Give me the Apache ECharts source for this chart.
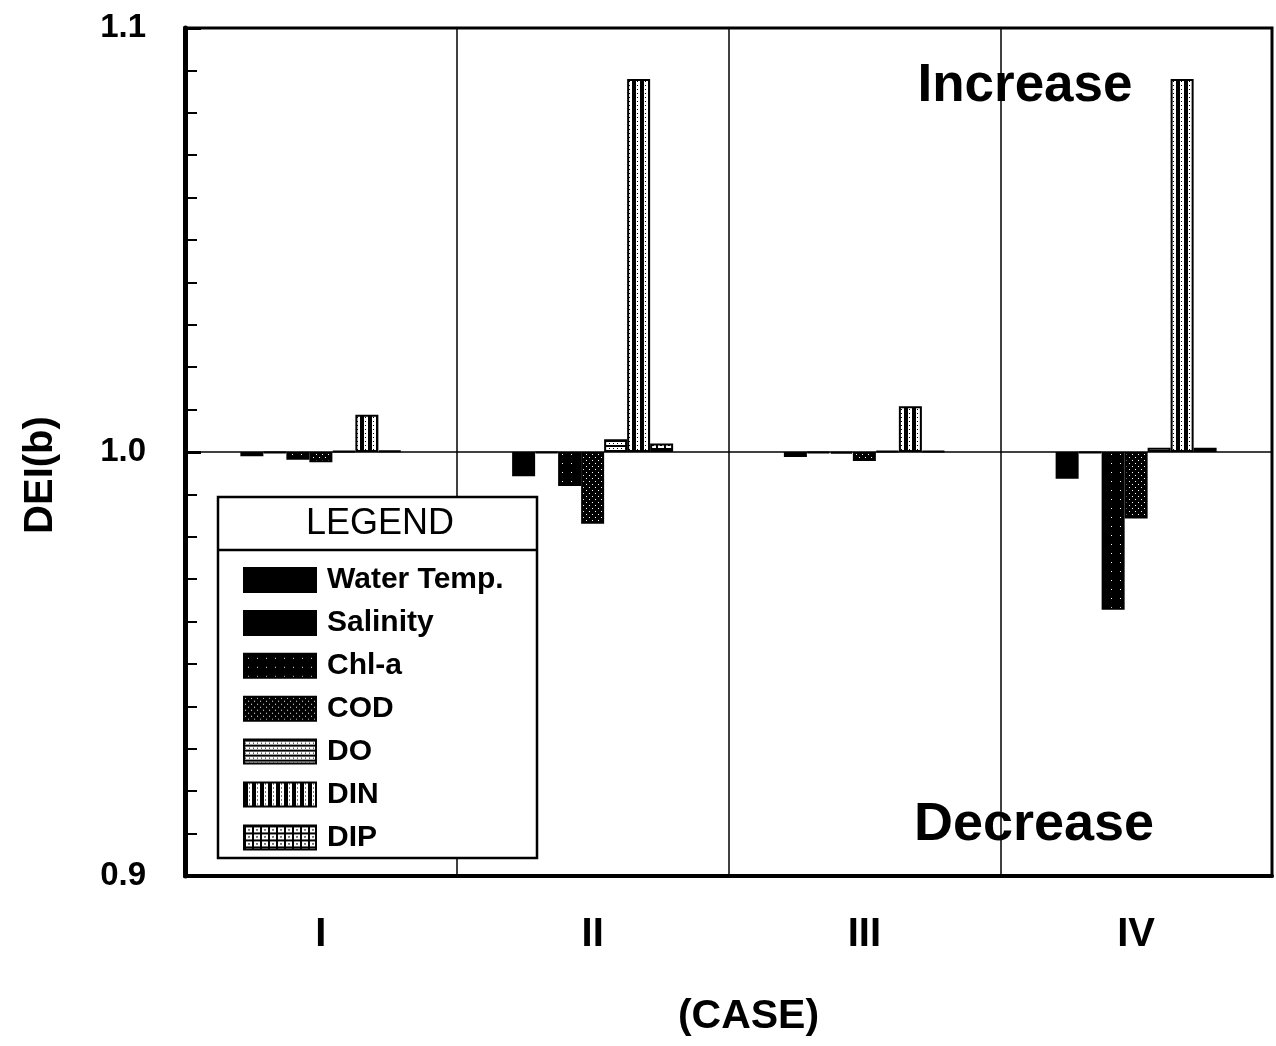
<!DOCTYPE html>
<html><head><meta charset="utf-8">
<script src="https://cdn.jsdelivr.net/npm/echarts@6/dist/echarts.min.js"></script>
<style>html,body{margin:0;padding:0;background:#fff}#c{width:1276px;height:1046px}</style>
</head><body><div id="c"></div>
<script>
// ---- data ----
const cases = ['I', 'II', 'III', 'IV'];
const waterTemp = [0.9990, 0.9943, 0.9988, 0.9937];
const salinity  = [0.9998, 0.9998, 0.9998, 0.9998];
const chla      = [0.9982, 0.9920, 0.9996, 0.9628];
const cod       = [0.9976, 0.9831, 0.9979, 0.9843];
const dissO     = [1.0002, 1.0030, 1.0002, 1.0010];
const din       = [1.0088, 1.0880, 1.0108, 1.0880];
const dip       = [1.0003, 1.0020, 1.0002, 1.0010];
const seriesNames = ['Water Temp.', 'Salinity', 'Chl-a', 'COD', 'DO', 'DIN', 'DIP'];
const baseValue = 1.0;

const SANS = "'Liberation Sans',Arial,sans-serif";

function pat(w, h, draw) {
  const c = document.createElement('canvas');
  c.width = w; c.height = h;
  const g = c.getContext('2d');
  draw(g, w, h);
  return { image: c, repeat: 'repeat' };
}
const fills = [
  '#000',
  '#000',
  pat(9, 9, g => { g.fillStyle = '#000'; g.fillRect(0, 0, 9, 9); g.fillStyle = '#fff'; g.fillRect(4, 4, 1, 1); }),
  pat(6, 6, g => { g.fillStyle = '#000'; g.fillRect(0, 0, 6, 6); g.fillStyle = '#fff'; g.fillRect(1, 1, 1, 1); g.fillRect(4, 4, 1, 1); }),
  pat(4, 5, g => { g.fillStyle = '#fff'; g.fillRect(0, 0, 4, 5); g.fillStyle = '#000'; g.fillRect(0, 0, 4, 2); g.fillRect(1, 3, 1, 1); }),
  pat(8, 4, g => { g.fillStyle = '#fff'; g.fillRect(0, 0, 8, 4); g.fillStyle = '#000'; g.fillRect(0, 0, 4, 4); g.fillRect(5, 1, 1, 1); }),
  pat(8, 7, g => { g.fillStyle = '#fff'; g.fillRect(0, 0, 8, 7); g.fillStyle = '#000'; g.fillRect(0, 0, 8, 2); g.fillRect(0, 0, 2, 7); g.fillRect(4, 4, 2, 1); })
];
const dataSets = [waterTemp, salinity, chla, cod, dissO, din, dip];

const chart = echarts.init(document.getElementById('c'), null, { renderer: 'canvas' });
chart.setOption({
  backgroundColor: '#fff',
  animation: false,
  grid: { left: 185, right: 4, top: 28, bottom: 170, show: true, borderColor: '#000', borderWidth: 3 },
  xAxis: {
    type: 'category', data: cases,
    axisLine: { onZero: false, lineStyle: { color: '#000', width: 4 } },
    axisTick: { show: false },
    splitLine: { show: true, lineStyle: { color: '#000', width: 1.5 } },
    axisLabel: { fontSize: 40, fontWeight: 'bold', fontFamily: SANS, color: '#000', margin: 39 },
    name: '(CASE)', nameLocation: 'middle', nameGap: 120,
    nameTextStyle: { fontSize: 41, fontWeight: 'bold', fontFamily: SANS, color: '#000', padding: [0, 0, 0, 40] }
  },
  yAxis: {
    type: 'value', min: -0.1, max: 0.1, interval: 0.1,
    axisLine: { show: true, lineStyle: { color: '#000', width: 5 } },
    axisTick: { show: true, inside: true, length: 16, lineStyle: { color: '#000', width: 3 } },
    minorTick: { show: true, splitNumber: 10, length: 12, lineStyle: { color: '#000', width: 2 } },
    splitLine: { show: true, lineStyle: { color: '#000', width: 1.5 } },
    axisLabel: { formatter: v => (baseValue + v).toFixed(1), fontSize: 33, fontWeight: 'bold', fontFamily: SANS, color: '#000', margin: 39 },
    name: 'DEI(b)', nameLocation: 'middle', nameGap: 124,
    nameTextStyle: { fontSize: 40, fontWeight: 'bold', fontFamily: SANS, color: '#000', padding: [0, 46, 0, 0] }
  },
  legend: {
    orient: 'vertical', left: 238, top: 560, itemWidth: 72, itemHeight: 24, itemGap: 12.9,
    icon: 'rect', selectedMode: false, z: 10,
    data: seriesNames,
    textStyle: { fontSize: 30, fontWeight: 'bold', fontFamily: SANS, color: '#000', padding: [0, 0, 0, 6] }
  },
  graphic: [
    { type: 'rect', z: 6, shape: { x: 218, y: 497, width: 319, height: 361 }, style: { fill: '#fff', stroke: '#000', lineWidth: 2.5 } },
    { type: 'line', z: 7, shape: { x1: 218, y1: 550, x2: 537, y2: 550 }, style: { stroke: '#000', lineWidth: 2.5 } },
    { type: 'text', z: 7, x: 380, y: 524, style: { text: 'LEGEND', fontSize: 36, fontFamily: SANS, fill: '#000', textAlign: 'center', textVerticalAlign: 'middle' } },
    { type: 'text', z: 7, x: 1025, y: 86, style: { text: 'Increase', fontSize: 53, fontWeight: 'bold', fontFamily: SANS, fill: '#000', textAlign: 'center', textVerticalAlign: 'middle' } },
    { type: 'text', z: 7, x: 1034, y: 825, style: { text: 'Decrease', fontSize: 54, fontWeight: 'bold', fontFamily: SANS, fill: '#000', textAlign: 'center', textVerticalAlign: 'middle' } }
  ],
  series: dataSets.map((d, i) => ({
    name: seriesNames[i], type: 'bar',
    data: d.map(v => +(v - baseValue).toFixed(4)),
    barWidth: 23, barGap: '0%',
    itemStyle: { color: fills[i], borderColor: '#000', borderWidth: 2 }
  }))
});
</script></body></html>
